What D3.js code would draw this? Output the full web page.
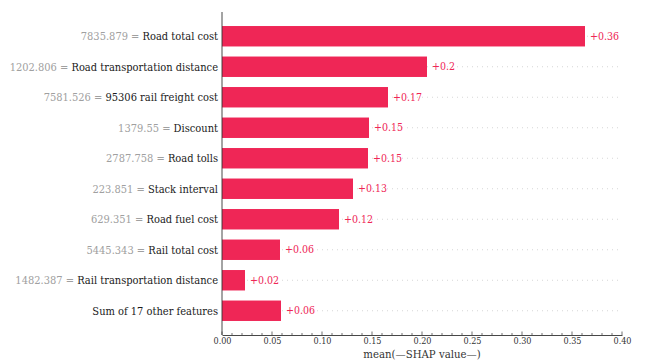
<!DOCTYPE html>
<html>
<head>
<meta charset="utf-8">
<script src="https://cdn.jsdelivr.net/npm/d3@7"></script>
<style>
  html, body { margin: 0; padding: 0; background: #ffffff; }
  svg { display: block; }
  svg text { font-family: "DejaVu Serif Condensed", "DejaVu Serif", serif; font-stretch: condensed; }
</style>
</head>
<body>
<svg id="chart" width="646" height="361"></svg>
<script>
// Feature names, their observed values and mean |SHAP| importance
const features = [
  "Road total cost",
  "Road transportation distance",
  "95306 rail freight cost",
  "Discount",
  "Road tolls",
  "Stack interval",
  "Road fuel cost",
  "Rail total cost",
  "Rail transportation distance",
  "Sum of 17 other features"
];
const featureValues = [
  "7835.879", "1202.806", "7581.526", "1379.55", "2787.758",
  "223.851", "629.351", "5445.343", "1482.387", null
];
const shapValues = [0.363, 0.205, 0.166, 0.147, 0.146, 0.131, 0.117, 0.058, 0.023, 0.059];
const xTicks = [0, 0.05, 0.10, 0.15, 0.20, 0.25, 0.30, 0.35, 0.40];
const xLabel = "mean(\u2014SHAP value\u2014)";

const RED = "#ef2656";

const margin = { left: 222, right: 24, top: 12, bottom: 26 };
const W = 646, H = 361;

const svg = d3.select("#chart");

const x = d3.scaleLinear()
  .domain([0, 0.40])
  .range([margin.left, W - margin.right]);

const y = d3.scaleBand()
  .domain(d3.range(features.length))
  .range([margin.top, H - margin.bottom])
  .paddingInner(0.33)
  .paddingOuter(0.46);

const fmt = v => "+" + String(+v.toFixed(2));

// dotted row guides behind the bars
svg.append("g").selectAll("line")
  .data(features)
  .join("line")
  .attr("x1", x(0))
  .attr("x2", x(0.40))
  .attr("y1", (d, i) => y(i) + y.bandwidth() / 2)
  .attr("y2", (d, i) => y(i) + y.bandwidth() / 2)
  .attr("stroke", "#cccccc")
  .attr("stroke-width", 0.8)
  .attr("stroke-dasharray", "1 4");

// bars
svg.append("g").selectAll("rect")
  .data(shapValues)
  .join("rect")
  .attr("x", x(0))
  .attr("y", (d, i) => y(i))
  .attr("width", d => x(d) - x(0))
  .attr("height", y.bandwidth())
  .attr("fill", RED);

// value labels
svg.append("g").selectAll("text")
  .data(shapValues)
  .join("text")
  .attr("x", d => x(d) + 5)
  .attr("y", (d, i) => y(i) + y.bandwidth() / 2)
  .attr("dy", "0.35em")
  .attr("font-size", 10.5)
  .attr("fill", RED)
  .text(fmt);

// row labels: grey value = dark feature name
const rowLabels = svg.append("g").selectAll("text")
  .data(features)
  .join("text")
  .attr("x", x(0) - 4)
  .attr("y", (d, i) => y(i) + y.bandwidth() / 2)
  .attr("dy", "0.35em")
  .attr("text-anchor", "end")
  .attr("font-size", 11);

rowLabels.each(function(d, i) {
  const t = d3.select(this);
  if (featureValues[i] !== null) {
    t.append("tspan").attr("fill", "#a0a0a0").text(featureValues[i] + " = ");
  }
  t.append("tspan").attr("fill", "#1a1a1a").text(d);
});

// axes
const xAxis = d3.axisBottom(x)
  .tickValues(xTicks)
  .tickFormat(d3.format(".2f"))
  .tickSize(0)
  .tickPadding(3);

const gx = svg.append("g")
  .attr("transform", `translate(0,${H - margin.bottom})`)
  .call(xAxis);
gx.select(".domain").attr("stroke", "#333333").attr("stroke-width", 0.9);
gx.selectAll("text")
  .attr("font-size", 9)
  .attr("fill", "#333333");

// inward tick marks: major every 0.05, minor every 0.01
const minor = d3.range(0, 0.4001, 0.01);
gx.append("g").selectAll("line")
  .data(minor)
  .join("line")
  .attr("x1", d => x(d)).attr("x2", d => x(d))
  .attr("y1", 0)
  .attr("y2", (d, i) => i % 5 === 0 ? -3.5 : -2)
  .attr("stroke", "#333333")
  .attr("stroke-width", 0.7);

svg.append("line")
  .attr("x1", x(0)).attr("x2", x(0))
  .attr("y1", margin.top).attr("y2", H - margin.bottom)
  .attr("stroke", "#333333")
  .attr("stroke-width", 0.9);

svg.append("text")
  .attr("x", (x(0) + x(0.40)) / 2)
  .attr("y", 358)
  .attr("text-anchor", "middle")
  .attr("font-size", 11.3)
  .attr("fill", "#333333")
  .text(xLabel);
</script>
</body>
</html>
